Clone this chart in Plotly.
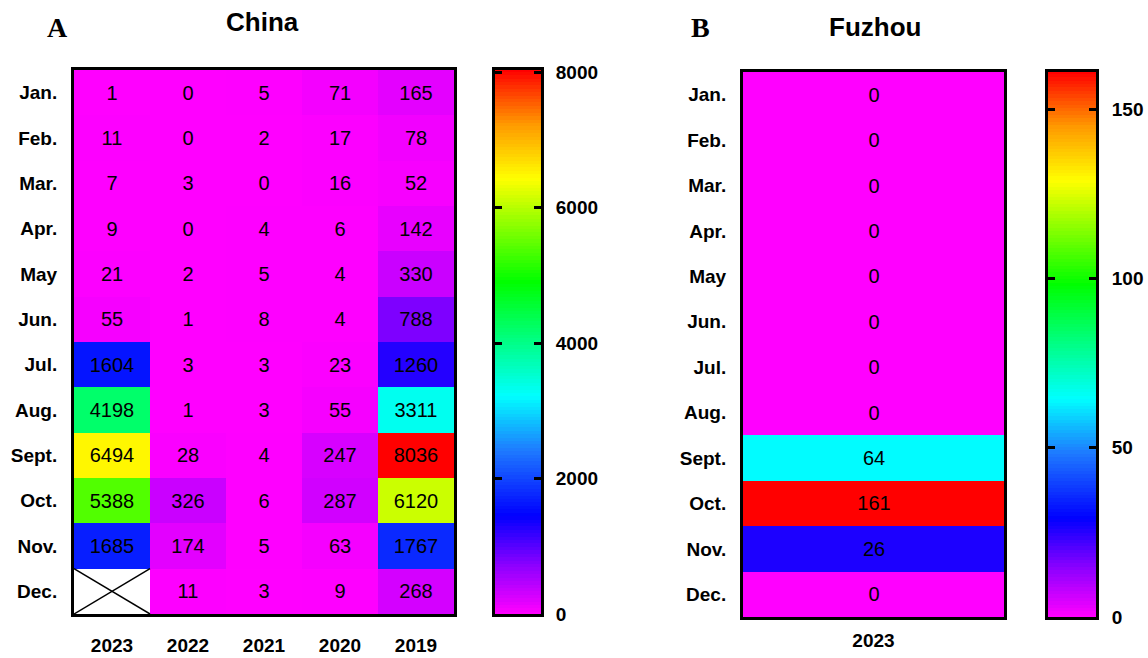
import numpy as np
import plotly.graph_objects as go

# ---- data -------------------------------------------------------------
months = ["Jan.", "Feb.", "Mar.", "Apr.", "May", "Jun.", "Jul.", "Aug.",
          "Sept.", "Oct.", "Nov.", "Dec."]
years_china = ["2023", "2022", "2021", "2020", "2019"]

china_2023 = [1, 11, 7, 9, 21, 55, 1604, 4198, 6494, 5388, 1685, None]
china_2022 = [0, 0, 3, 0, 2, 1, 3, 1, 28, 326, 174, 11]
china_2021 = [5, 2, 0, 4, 5, 8, 3, 3, 4, 6, 5, 3]
china_2020 = [71, 17, 16, 6, 4, 4, 23, 55, 247, 287, 63, 9]
china_2019 = [165, 78, 52, 142, 330, 788, 1260, 3311, 8036, 6120, 1767, 268]

years_fuzhou = ["2023"]
fuzhou_2023 = [0, 0, 0, 0, 0, 0, 0, 0, 64, 161, 26, 0]

china_max = 8036
fuzhou_max = 161
china_ticks = [0, 2000, 4000, 6000, 8000]
fuzhou_ticks = [0, 50, 100, 150]

# rainbow scale running magenta -> blue -> cyan -> green -> yellow -> red
rainbow = [
    [0.00, "#ff00ff"],
    [0.09, "#8a00ff"],
    [0.18, "#0000ff"],
    [0.30, "#1e7aff"],
    [0.40, "#00ffff"],
    [0.61, "#00ff00"],
    [0.80, "#ffff00"],
    [0.90, "#ff9900"],
    [1.00, "#ff0000"],
]

FONT = "Liberation Sans, Arial, sans-serif"
W, H = 1148, 658


def px_x(a, b):
    return [a / W, b / W]


def px_y(top, bottom):
    return [1 - bottom / H, 1 - top / H]


def grid(columns):
    z = [list(row) for row in zip(*columns)]
    text = [["" if v is None else str(v) for v in row] for row in z]
    zz = [[np.nan if v is None else v for v in row] for row in z]
    return zz, text


fig = go.Figure()

# ---- panel A: China ----------------------------------------------------
zA, tA = grid([china_2023, china_2022, china_2021, china_2020, china_2019])
fig.add_trace(go.Heatmap(
    z=zA, x=list(range(len(years_china))), y=list(range(len(months))),
    text=tA, texttemplate="%{text}",
    textfont=dict(family=FONT, size=20, color="black"),
    colorscale=rainbow, zmin=0, zmax=china_max, showscale=False,
    hoverongaps=False, xaxis="x", yaxis="y",
))

# cross through the month without data
for ci, col in enumerate([china_2023, china_2022, china_2021, china_2020, china_2019]):
    for ri, v in enumerate(col):
        if v is None:
            fig.add_trace(go.Scatter(
                x=[ci - 0.5, ci + 0.5, None, ci - 0.5, ci + 0.5],
                y=[ri - 0.5, ri + 0.5, None, ri + 0.5, ri - 0.5],
                mode="lines", line=dict(color="black", width=1.5),
                hoverinfo="skip", showlegend=False, xaxis="x", yaxis="y",
            ))

# gradient strip for panel A
gradA = np.linspace(0, china_max, 160)
fig.add_trace(go.Heatmap(
    z=[[v] for v in gradA], x=[0], y=gradA,
    colorscale=rainbow, zmin=0, zmax=china_max, showscale=False,
    hoverinfo="skip", xaxis="x2", yaxis="y2",
))

# ---- panel B: Fuzhou ---------------------------------------------------
zB, tB = grid([fuzhou_2023])
fig.add_trace(go.Heatmap(
    z=zB, x=list(range(len(years_fuzhou))), y=list(range(len(months))),
    text=tB, texttemplate="%{text}",
    textfont=dict(family=FONT, size=20, color="black"),
    colorscale=rainbow, zmin=0, zmax=fuzhou_max, showscale=False,
    xaxis="x3", yaxis="y3",
))

gradB = np.linspace(0, fuzhou_max, 160)
fig.add_trace(go.Heatmap(
    z=[[v] for v in gradB], x=[0], y=gradB,
    colorscale=rainbow, zmin=0, zmax=fuzhou_max, showscale=False,
    hoverinfo="skip", xaxis="x4", yaxis="y4",
))

# ---- axes --------------------------------------------------------------
frame = dict(showline=True, mirror=True, linewidth=3, linecolor="black",
             showgrid=False, zeroline=False, fixedrange=True,
             automargin=False)
lab = dict(family=FONT, size=19, color="black", weight="bold")

fig.update_layout(
    xaxis=dict(frame, domain=px_x(74, 454), range=[-0.5, 4.5],
               tickmode="array", tickvals=list(range(len(years_china))),
               ticktext=years_china, ticks="", tickfont=lab,
               ticklabelstandoff=12, anchor="y"),
    yaxis=dict(frame, domain=px_y(70, 614), range=[11.5, -0.5],
               tickmode="array", tickvals=list(range(len(months))),
               ticktext=months, ticks="", tickfont=lab,
               ticklabelstandoff=10, anchor="x"),
    xaxis2=dict(frame, domain=px_x(495, 541), range=[-0.5, 0.5],
                showticklabels=False, ticks="", anchor="y2"),
    yaxis2=dict(frame, domain=px_y(70, 614), range=[0, china_max],
                side="right", tickmode="array", tickvals=china_ticks,
                ticks="inside", ticklen=7, tickwidth=3, tickcolor="black",
                tickfont=lab, ticklabelstandoff=8, anchor="x2"),
    xaxis3=dict(frame, domain=px_x(743, 1004), range=[-0.5, 0.5],
                tickmode="array", tickvals=[0], ticktext=years_fuzhou,
                ticks="", tickfont=lab, ticklabelstandoff=4, anchor="y3"),
    yaxis3=dict(frame, domain=px_y(72, 617), range=[11.5, -0.5],
                tickmode="array", tickvals=list(range(len(months))),
                ticktext=months, ticks="", tickfont=lab,
                ticklabelstandoff=10, anchor="x3"),
    xaxis4=dict(frame, domain=px_x(1048, 1096), range=[-0.5, 0.5],
                showticklabels=False, ticks="", anchor="y4"),
    yaxis4=dict(frame, domain=px_y(72, 617), range=[0, fuzhou_max],
                side="right", tickmode="array", tickvals=fuzhou_ticks,
                ticks="inside", ticklen=7, tickwidth=3, tickcolor="black",
                tickfont=lab, ticklabelstandoff=9, anchor="x4"),
)
fig.update_yaxes(selector=dict(anchor="x2"), mirror="ticks")
fig.update_yaxes(selector=dict(anchor="x4"), mirror="ticks")

# ---- titles ------------------------------------------------------------
title_font = dict(family=FONT, size=26, color="black", weight="bold")
panel_font = dict(family="Liberation Serif, Times New Roman, serif", size=28,
                  color="black", weight="bold")
for txt, cx, cy, f in [("China", 262, 22, title_font),
                       ("Fuzhou", 875, 27, title_font),
                       ("A", 57, 28, panel_font),
                       ("B", 700, 27, panel_font)]:
    fig.add_annotation(text=txt, x=cx / W, y=1 - cy / H, xref="paper",
                       yref="paper", xanchor="center", yanchor="middle",
                       showarrow=False, font=f)

fig.update_layout(
    width=W, height=H, margin=dict(l=0, r=0, t=0, b=0),
    paper_bgcolor="white", plot_bgcolor="white", showlegend=False,
)

fig.write_html("out.html")
